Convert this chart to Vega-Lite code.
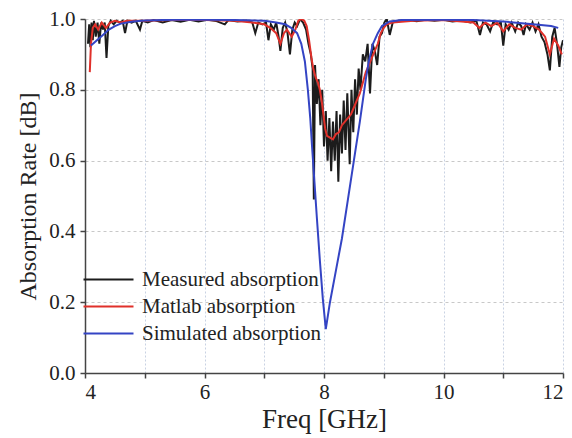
{
  "$schema": "https://vega.github.io/schema/vega-lite/v6.json",
  "width": 478,
  "height": 354,
  "autosize": {"type": "none"},
  "padding": {"left": 85, "top": 19, "right": 9, "bottom": 65},
  "background": "white",
  "config": {
    "view": {"stroke": null},
    "font": "Liberation Serif",
    "axis": {"labelFont": "Liberation Serif", "titleFont": "Liberation Serif", "labelColor": "#222", "titleColor": "#222", "domainColor": "#444", "tickColor": "#444", "titleFontWeight": "normal"},
    "legend": {"labelFont": "Liberation Serif"}
  },
  "data": {"values": [
    {"s":"Measured absorption","f":4.05,"a":0.93},
    {"s":"Measured absorption","f":4.07,"a":0.985},
    {"s":"Measured absorption","f":4.09,"a":0.92},
    {"s":"Measured absorption","f":4.11,"a":0.99},
    {"s":"Measured absorption","f":4.13,"a":0.94},
    {"s":"Measured absorption","f":4.15,"a":0.995},
    {"s":"Measured absorption","f":4.18,"a":0.95},
    {"s":"Measured absorption","f":4.21,"a":0.99},
    {"s":"Measured absorption","f":4.24,"a":0.93},
    {"s":"Measured absorption","f":4.27,"a":0.99},
    {"s":"Measured absorption","f":4.30,"a":0.97},
    {"s":"Measured absorption","f":4.33,"a":0.99},
    {"s":"Measured absorption","f":4.36,"a":0.89},
    {"s":"Measured absorption","f":4.39,"a":0.98},
    {"s":"Measured absorption","f":4.43,"a":0.995},
    {"s":"Measured absorption","f":4.48,"a":0.985},
    {"s":"Measured absorption","f":4.53,"a":0.995},
    {"s":"Measured absorption","f":4.58,"a":0.99},
    {"s":"Measured absorption","f":4.63,"a":0.995},
    {"s":"Measured absorption","f":4.67,"a":0.96},
    {"s":"Measured absorption","f":4.71,"a":0.995},
    {"s":"Measured absorption","f":4.78,"a":0.99},
    {"s":"Measured absorption","f":4.85,"a":0.995},
    {"s":"Measured absorption","f":4.92,"a":0.97},
    {"s":"Measured absorption","f":4.96,"a":0.995},
    {"s":"Measured absorption","f":5.05,"a":0.99},
    {"s":"Measured absorption","f":5.15,"a":0.997},
    {"s":"Measured absorption","f":5.3,"a":0.99},
    {"s":"Measured absorption","f":5.45,"a":0.997},
    {"s":"Measured absorption","f":5.6,"a":0.992},
    {"s":"Measured absorption","f":5.75,"a":0.998},
    {"s":"Measured absorption","f":5.9,"a":0.993},
    {"s":"Measured absorption","f":6.05,"a":0.998},
    {"s":"Measured absorption","f":6.2,"a":0.994},
    {"s":"Measured absorption","f":6.34,"a":0.985},
    {"s":"Measured absorption","f":6.4,"a":0.997},
    {"s":"Measured absorption","f":6.55,"a":0.993},
    {"s":"Measured absorption","f":6.7,"a":0.996},
    {"s":"Measured absorption","f":6.8,"a":0.99},
    {"s":"Measured absorption","f":6.85,"a":0.96},
    {"s":"Measured absorption","f":6.9,"a":0.99},
    {"s":"Measured absorption","f":6.97,"a":0.985},
    {"s":"Measured absorption","f":7.03,"a":0.99},
    {"s":"Measured absorption","f":7.07,"a":0.94},
    {"s":"Measured absorption","f":7.11,"a":0.985},
    {"s":"Measured absorption","f":7.16,"a":0.97},
    {"s":"Measured absorption","f":7.2,"a":0.99},
    {"s":"Measured absorption","f":7.24,"a":0.95},
    {"s":"Measured absorption","f":7.27,"a":0.91},
    {"s":"Measured absorption","f":7.31,"a":0.975},
    {"s":"Measured absorption","f":7.35,"a":0.99},
    {"s":"Measured absorption","f":7.39,"a":0.96},
    {"s":"Measured absorption","f":7.43,"a":0.9},
    {"s":"Measured absorption","f":7.47,"a":0.97},
    {"s":"Measured absorption","f":7.51,"a":0.99},
    {"s":"Measured absorption","f":7.55,"a":0.98},
    {"s":"Measured absorption","f":7.6,"a":1.0},
    {"s":"Measured absorption","f":7.65,"a":0.99},
    {"s":"Measured absorption","f":7.7,"a":0.97},
    {"s":"Measured absorption","f":7.74,"a":0.93},
    {"s":"Measured absorption","f":7.78,"a":0.9},
    {"s":"Measured absorption","f":7.81,"a":0.86},
    {"s":"Measured absorption","f":7.83,"a":0.49},
    {"s":"Measured absorption","f":7.85,"a":0.87},
    {"s":"Measured absorption","f":7.88,"a":0.76},
    {"s":"Measured absorption","f":7.91,"a":0.83},
    {"s":"Measured absorption","f":7.94,"a":0.7},
    {"s":"Measured absorption","f":7.97,"a":0.8},
    {"s":"Measured absorption","f":8.0,"a":0.64},
    {"s":"Measured absorption","f":8.03,"a":0.74},
    {"s":"Measured absorption","f":8.06,"a":0.6},
    {"s":"Measured absorption","f":8.09,"a":0.72},
    {"s":"Measured absorption","f":8.12,"a":0.57},
    {"s":"Measured absorption","f":8.15,"a":0.71},
    {"s":"Measured absorption","f":8.18,"a":0.6},
    {"s":"Measured absorption","f":8.21,"a":0.74},
    {"s":"Measured absorption","f":8.24,"a":0.54},
    {"s":"Measured absorption","f":8.27,"a":0.73},
    {"s":"Measured absorption","f":8.3,"a":0.62},
    {"s":"Measured absorption","f":8.33,"a":0.77},
    {"s":"Measured absorption","f":8.36,"a":0.63},
    {"s":"Measured absorption","f":8.39,"a":0.79},
    {"s":"Measured absorption","f":8.43,"a":0.59},
    {"s":"Measured absorption","f":8.46,"a":0.8},
    {"s":"Measured absorption","f":8.49,"a":0.68},
    {"s":"Measured absorption","f":8.52,"a":0.83},
    {"s":"Measured absorption","f":8.55,"a":0.73},
    {"s":"Measured absorption","f":8.58,"a":0.86},
    {"s":"Measured absorption","f":8.61,"a":0.8},
    {"s":"Measured absorption","f":8.65,"a":0.9},
    {"s":"Measured absorption","f":8.69,"a":0.88},
    {"s":"Measured absorption","f":8.73,"a":0.93},
    {"s":"Measured absorption","f":8.77,"a":0.79},
    {"s":"Measured absorption","f":8.81,"a":0.93},
    {"s":"Measured absorption","f":8.85,"a":0.91},
    {"s":"Measured absorption","f":8.89,"a":0.87},
    {"s":"Measured absorption","f":8.93,"a":0.95},
    {"s":"Measured absorption","f":8.97,"a":0.96},
    {"s":"Measured absorption","f":9.01,"a":0.99},
    {"s":"Measured absorption","f":9.05,"a":1.0},
    {"s":"Measured absorption","f":9.1,"a":0.955},
    {"s":"Measured absorption","f":9.15,"a":0.99},
    {"s":"Measured absorption","f":9.25,"a":0.995},
    {"s":"Measured absorption","f":9.4,"a":0.998},
    {"s":"Measured absorption","f":9.55,"a":0.994},
    {"s":"Measured absorption","f":9.7,"a":0.998},
    {"s":"Measured absorption","f":9.85,"a":0.995},
    {"s":"Measured absorption","f":10.0,"a":0.998},
    {"s":"Measured absorption","f":10.15,"a":0.993},
    {"s":"Measured absorption","f":10.3,"a":0.996},
    {"s":"Measured absorption","f":10.45,"a":0.99},
    {"s":"Measured absorption","f":10.55,"a":0.995},
    {"s":"Measured absorption","f":10.61,"a":0.955},
    {"s":"Measured absorption","f":10.66,"a":0.99},
    {"s":"Measured absorption","f":10.72,"a":0.985},
    {"s":"Measured absorption","f":10.78,"a":0.965},
    {"s":"Measured absorption","f":10.83,"a":0.99},
    {"s":"Measured absorption","f":10.9,"a":0.985},
    {"s":"Measured absorption","f":10.96,"a":0.99},
    {"s":"Measured absorption","f":11.0,"a":0.925},
    {"s":"Measured absorption","f":11.04,"a":0.985},
    {"s":"Measured absorption","f":11.09,"a":0.97},
    {"s":"Measured absorption","f":11.14,"a":0.99},
    {"s":"Measured absorption","f":11.2,"a":0.965},
    {"s":"Measured absorption","f":11.25,"a":0.99},
    {"s":"Measured absorption","f":11.3,"a":0.98},
    {"s":"Measured absorption","f":11.34,"a":0.955},
    {"s":"Measured absorption","f":11.38,"a":0.985},
    {"s":"Measured absorption","f":11.44,"a":0.97},
    {"s":"Measured absorption","f":11.49,"a":0.99},
    {"s":"Measured absorption","f":11.54,"a":0.965},
    {"s":"Measured absorption","f":11.59,"a":0.985},
    {"s":"Measured absorption","f":11.64,"a":0.95},
    {"s":"Measured absorption","f":11.69,"a":0.935},
    {"s":"Measured absorption","f":11.74,"a":0.9},
    {"s":"Measured absorption","f":11.78,"a":0.855},
    {"s":"Measured absorption","f":11.82,"a":0.95},
    {"s":"Measured absorption","f":11.86,"a":0.975},
    {"s":"Measured absorption","f":11.9,"a":0.93},
    {"s":"Measured absorption","f":11.94,"a":0.865},
    {"s":"Measured absorption","f":11.97,"a":0.92},
    {"s":"Measured absorption","f":12.0,"a":0.94},

    {"s":"Matlab absorption","f":4.08,"a":0.85},
    {"s":"Matlab absorption","f":4.1,"a":0.93},
    {"s":"Matlab absorption","f":4.13,"a":0.975},
    {"s":"Matlab absorption","f":4.17,"a":0.985},
    {"s":"Matlab absorption","f":4.22,"a":0.97},
    {"s":"Matlab absorption","f":4.28,"a":0.99},
    {"s":"Matlab absorption","f":4.35,"a":0.975},
    {"s":"Matlab absorption","f":4.42,"a":0.99},
    {"s":"Matlab absorption","f":4.5,"a":0.995},
    {"s":"Matlab absorption","f":4.6,"a":0.99},
    {"s":"Matlab absorption","f":4.7,"a":0.995},
    {"s":"Matlab absorption","f":5.0,"a":0.995},
    {"s":"Matlab absorption","f":5.5,"a":0.997},
    {"s":"Matlab absorption","f":6.0,"a":0.997},
    {"s":"Matlab absorption","f":6.5,"a":0.995},
    {"s":"Matlab absorption","f":6.8,"a":0.99},
    {"s":"Matlab absorption","f":7.0,"a":0.985},
    {"s":"Matlab absorption","f":7.1,"a":0.975},
    {"s":"Matlab absorption","f":7.2,"a":0.96},
    {"s":"Matlab absorption","f":7.27,"a":0.93},
    {"s":"Matlab absorption","f":7.33,"a":0.96},
    {"s":"Matlab absorption","f":7.38,"a":0.97},
    {"s":"Matlab absorption","f":7.46,"a":0.95},
    {"s":"Matlab absorption","f":7.52,"a":0.97},
    {"s":"Matlab absorption","f":7.57,"a":0.995},
    {"s":"Matlab absorption","f":7.62,"a":1.0},
    {"s":"Matlab absorption","f":7.67,"a":0.995},
    {"s":"Matlab absorption","f":7.71,"a":0.98},
    {"s":"Matlab absorption","f":7.75,"a":0.94},
    {"s":"Matlab absorption","f":7.79,"a":0.89},
    {"s":"Matlab absorption","f":7.82,"a":0.86},
    {"s":"Matlab absorption","f":7.86,"a":0.835},
    {"s":"Matlab absorption","f":7.9,"a":0.82},
    {"s":"Matlab absorption","f":7.93,"a":0.8},
    {"s":"Matlab absorption","f":7.96,"a":0.77},
    {"s":"Matlab absorption","f":7.99,"a":0.73},
    {"s":"Matlab absorption","f":8.02,"a":0.69},
    {"s":"Matlab absorption","f":8.05,"a":0.67},
    {"s":"Matlab absorption","f":8.1,"a":0.665},
    {"s":"Matlab absorption","f":8.15,"a":0.66},
    {"s":"Matlab absorption","f":8.2,"a":0.675},
    {"s":"Matlab absorption","f":8.25,"a":0.68},
    {"s":"Matlab absorption","f":8.3,"a":0.7},
    {"s":"Matlab absorption","f":8.35,"a":0.71},
    {"s":"Matlab absorption","f":8.4,"a":0.72},
    {"s":"Matlab absorption","f":8.45,"a":0.73},
    {"s":"Matlab absorption","f":8.5,"a":0.75},
    {"s":"Matlab absorption","f":8.55,"a":0.77},
    {"s":"Matlab absorption","f":8.6,"a":0.79},
    {"s":"Matlab absorption","f":8.65,"a":0.82},
    {"s":"Matlab absorption","f":8.7,"a":0.85},
    {"s":"Matlab absorption","f":8.75,"a":0.87},
    {"s":"Matlab absorption","f":8.8,"a":0.89},
    {"s":"Matlab absorption","f":8.85,"a":0.91},
    {"s":"Matlab absorption","f":8.9,"a":0.93},
    {"s":"Matlab absorption","f":8.95,"a":0.96},
    {"s":"Matlab absorption","f":9.0,"a":0.975},
    {"s":"Matlab absorption","f":9.05,"a":0.985},
    {"s":"Matlab absorption","f":9.15,"a":0.99},
    {"s":"Matlab absorption","f":9.5,"a":0.995},
    {"s":"Matlab absorption","f":10.0,"a":0.997},
    {"s":"Matlab absorption","f":10.5,"a":0.99},
    {"s":"Matlab absorption","f":10.6,"a":0.975},
    {"s":"Matlab absorption","f":10.7,"a":0.99},
    {"s":"Matlab absorption","f":10.8,"a":0.98},
    {"s":"Matlab absorption","f":10.9,"a":0.99},
    {"s":"Matlab absorption","f":11.0,"a":0.965},
    {"s":"Matlab absorption","f":11.1,"a":0.985},
    {"s":"Matlab absorption","f":11.2,"a":0.975},
    {"s":"Matlab absorption","f":11.3,"a":0.97},
    {"s":"Matlab absorption","f":11.4,"a":0.985},
    {"s":"Matlab absorption","f":11.5,"a":0.98},
    {"s":"Matlab absorption","f":11.6,"a":0.97},
    {"s":"Matlab absorption","f":11.7,"a":0.95},
    {"s":"Matlab absorption","f":11.78,"a":0.9},
    {"s":"Matlab absorption","f":11.85,"a":0.945},
    {"s":"Matlab absorption","f":11.92,"a":0.925},
    {"s":"Matlab absorption","f":11.98,"a":0.9},

    {"s":"Simulated absorption","f":4.1,"a":0.925},
    {"s":"Simulated absorption","f":4.2,"a":0.94},
    {"s":"Simulated absorption","f":4.3,"a":0.955},
    {"s":"Simulated absorption","f":4.4,"a":0.97},
    {"s":"Simulated absorption","f":4.5,"a":0.98},
    {"s":"Simulated absorption","f":4.6,"a":0.987},
    {"s":"Simulated absorption","f":4.8,"a":0.993},
    {"s":"Simulated absorption","f":5.0,"a":0.996},
    {"s":"Simulated absorption","f":5.5,"a":0.998},
    {"s":"Simulated absorption","f":6.0,"a":0.998},
    {"s":"Simulated absorption","f":6.5,"a":0.997},
    {"s":"Simulated absorption","f":7.0,"a":0.995},
    {"s":"Simulated absorption","f":7.2,"a":0.99},
    {"s":"Simulated absorption","f":7.35,"a":0.985},
    {"s":"Simulated absorption","f":7.45,"a":0.975},
    {"s":"Simulated absorption","f":7.55,"a":0.96},
    {"s":"Simulated absorption","f":7.62,"a":0.93},
    {"s":"Simulated absorption","f":7.68,"a":0.88},
    {"s":"Simulated absorption","f":7.73,"a":0.8},
    {"s":"Simulated absorption","f":7.77,"a":0.72},
    {"s":"Simulated absorption","f":7.8,"a":0.64},
    {"s":"Simulated absorption","f":7.84,"a":0.54},
    {"s":"Simulated absorption","f":7.88,"a":0.44},
    {"s":"Simulated absorption","f":7.93,"a":0.32},
    {"s":"Simulated absorption","f":7.98,"a":0.21},
    {"s":"Simulated absorption","f":8.03,"a":0.124},
    {"s":"Simulated absorption","f":8.1,"a":0.2},
    {"s":"Simulated absorption","f":8.2,"a":0.29},
    {"s":"Simulated absorption","f":8.3,"a":0.38},
    {"s":"Simulated absorption","f":8.4,"a":0.49},
    {"s":"Simulated absorption","f":8.5,"a":0.6},
    {"s":"Simulated absorption","f":8.6,"a":0.71},
    {"s":"Simulated absorption","f":8.65,"a":0.77},
    {"s":"Simulated absorption","f":8.7,"a":0.83},
    {"s":"Simulated absorption","f":8.75,"a":0.88},
    {"s":"Simulated absorption","f":8.82,"a":0.93},
    {"s":"Simulated absorption","f":8.9,"a":0.96},
    {"s":"Simulated absorption","f":8.97,"a":0.98},
    {"s":"Simulated absorption","f":9.1,"a":0.993},
    {"s":"Simulated absorption","f":9.3,"a":0.997},
    {"s":"Simulated absorption","f":10.0,"a":0.998},
    {"s":"Simulated absorption","f":10.5,"a":0.997},
    {"s":"Simulated absorption","f":11.0,"a":0.993},
    {"s":"Simulated absorption","f":11.5,"a":0.985},
    {"s":"Simulated absorption","f":11.8,"a":0.98},
    {"s":"Simulated absorption","f":11.92,"a":0.975}
  ]},
  "mark": {"type": "line", "strokeWidth": 2, "clip": true},
  "encoding": {
    "x": {
      "field": "f", "type": "quantitative",
      "scale": {"domain": [4, 12], "nice": false, "zero": false},
      "axis": {
        "title": "Freq [GHz]", "titleFontSize": 27, "titlePadding": 4, "titleFont": "Liberation Serif",
        "values": [4, 5, 6, 7, 8, 9, 10, 11, 12],
        "labelExpr": "datum.value % 2 == 0 ? datum.label : ''",
        "labelFont": "Liberation Serif",
        "labelFontSize": 21, "labelPadding": 3, "tickSize": 5, "domainWidth": 1.5, "tickWidth": 1.5,
        "grid": true, "gridColor": "#c9d2e3", "gridDash": [2, 2], "gridWidth": 1
      }
    },
    "y": {
      "field": "a", "type": "quantitative",
      "scale": {"domain": [0, 1], "nice": false},
      "axis": {
        "title": "Absorption Rate [dB]", "titleFontSize": 24, "titlePadding": 8, "titleFont": "Liberation Serif",
        "values": [0, 0.2, 0.4, 0.6, 0.8, 1.0], "format": ".1f",
        "labelFont": "Liberation Serif",
        "labelFontSize": 21, "labelPadding": 5, "tickSize": 5, "domainWidth": 1.5, "tickWidth": 1.5,
        "grid": true, "gridColor": "#c8c8c8", "gridDash": [3, 3], "gridWidth": 1
      }
    },
    "color": {
      "field": "s", "type": "nominal",
      "sort": ["Measured absorption", "Matlab absorption", "Simulated absorption"],
      "scale": {"domain": ["Measured absorption", "Matlab absorption", "Simulated absorption"], "range": ["#1c1c1c", "#e0302a", "#3444c4"]},
      "legend": {
        "title": null, "orient": "none", "legendX": 13, "legendY": 250,
        "symbolType": "M-5,0H5", "symbolSize": 100, "symbolStrokeWidth": 2,
        "labelFont": "Liberation Serif",
        "labelFontSize": 21, "labelColor": "#222", "labelOffset": 23, "labelLimit": 0, "rowPadding": 5
      }
    },
    "order": {"field": "f", "type": "quantitative"}
  }
}
